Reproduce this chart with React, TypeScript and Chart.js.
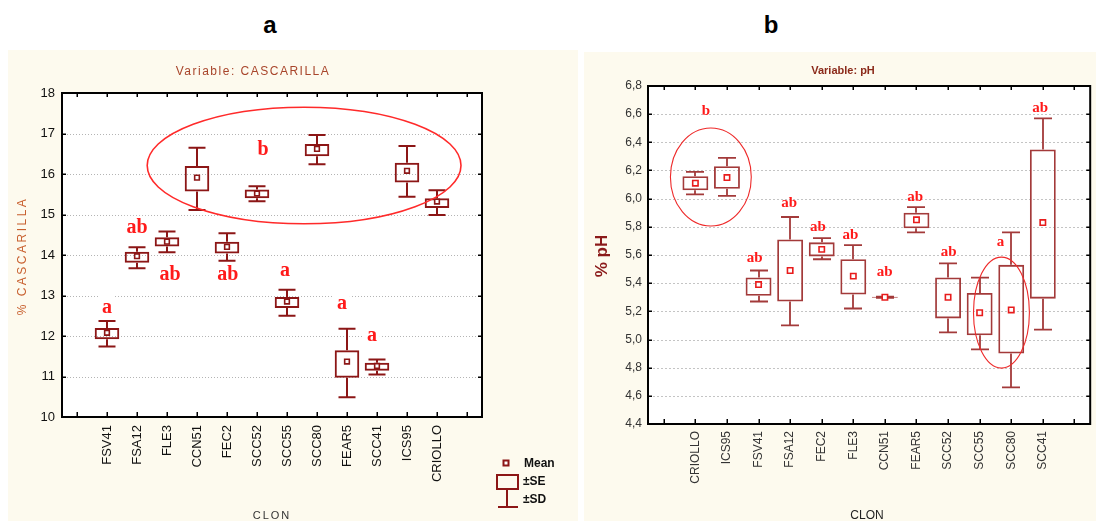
import React, { useEffect, useRef } from "react";
import { Chart, registerables } from "chart.js";
Chart.register(...registerables);

// ---------------- Panel a : CASCARILLA ----------------
const clonesA = ["", "FSV41", "FSA12", "FLE3", "CCN51", "FEC2", "SCC52", "SCC55", "SCC80", "FEAR5", "SCC41", "ICS95", "CRIOLLO", ""];
const meanA = [null, 12.08, 13.97, 14.33, 15.91, 14.2, 15.52, 12.85, 16.62, 11.37, 11.26, 16.08, 15.32, null];
const seHiA = [null, 12.2, 14.08, 14.44, 16.2, 14.33, 15.62, 12.96, 16.74, 11.65, 11.34, 16.28, 15.4, null];
const seLoA = [null, 11.92, 13.81, 14.21, 15.57, 14.04, 15.4, 12.69, 16.44, 10.97, 11.14, 15.79, 15.16, null];
const sdHiA = [null, 12.37, 14.19, 14.58, 16.65, 14.54, 15.7, 13.14, 16.96, 12.18, 11.42, 16.69, 15.6, null];
const sdLoA = [null, 11.74, 13.67, 14.07, 15.11, 13.86, 15.33, 12.5, 16.24, 10.49, 11.05, 15.44, 14.99, null];
const lettersA = ["a", "ab", "ab", "ab", "b", "a", "a", "a"];
const letterIdxA = [1, 2.0, 3.1, 5.03, 6.2, 6.93, 8.83, 9.83];
const letterValA = [12.7, 14.67, 13.51, 13.51, 16.59, 13.6, 12.8, 12.0];
const ellCxA = [7.57];
const ellCyA = [16.21];
const ellRxA = [5.23];
const ellRyA = [1.44];

// ---------------- Panel b : pH ----------------
const clonesB = ["", "CRIOLLO", "ICS95", "FSV41", "FSA12", "FEC2", "FLE3", "CCN51", "FEAR5", "SCC52", "SCC55", "SCC80", "SCC41", ""];
const meanB = [null, 6.11, 6.15, 5.39, 5.49, 5.64, 5.45, 5.3, 5.85, 5.3, 5.19, 5.21, 5.83, null];
const seHiB = [null, 6.16, 6.23, 5.44, 5.71, 5.69, 5.57, 5.304, 5.9, 5.44, 5.33, 5.53, 6.35, null];
const seLoB = [null, 6.06, 6.07, 5.31, 5.27, 5.59, 5.32, 5.296, 5.79, 5.15, 5.03, 4.9, 5.29, null];
const sdHiB = [null, 6.19, 6.29, 5.49, 5.87, 5.72, 5.67, 5.304, 5.94, 5.54, 5.44, 5.76, 6.57, null];
const sdLoB = [null, 6.03, 6.02, 5.27, 5.1, 5.57, 5.22, 5.296, 5.76, 5.05, 4.93, 4.66, 5.07, null];
const lettersB = ["b", "ab", "ab", "ab", "ab", "ab", "ab", "ab", "a", "ab"];
const letterIdxB = [1.33, 2.88, 3.97, 4.88, 5.91, 6.99, 7.96, 9.02, 10.66, 11.92];
const letterValB = [6.624, 5.577, 5.967, 5.797, 5.738, 5.475, 6.014, 5.62, 5.688, 6.646];
const ellCxB = [1.49, 10.69];
const ellCyB = [6.154, 5.191];
const ellRxB = [1.28, 0.885];
const ellRyB = [0.348, 0.394];

const SANS = '"Liberation Sans", Arial, sans-serif';
const NARROW = '"Liberation Sans Narrow", "Arial Narrow", "Liberation Sans", Arial, sans-serif';
const SERIF = '"Liberation Serif", "Times New Roman", serif';

type Spec = {
  w: number; h: number;
  labels: string[];
  mean: (number | null)[]; seHi: (number | null)[]; seLo: (number | null)[];
  sdHi: (number | null)[]; sdLo: (number | null)[];
  yMin: number; yMax: number; yStep: number; comma: boolean;
  yAxisW: number; xAxisH: number; padding: { top: number; left: number; right: number; bottom: number };
  yTickFont: string; yTickSize: number; yTickColor: string;
  xTickFont: string; xTickSize: number; xTickColor: string; xTickPad: number; yTickPad: number;
  boxColor: string; boxLW: number; meanBorder: string; meanR: number; capW: number;
  gridColor: string; gridDash: number[]; frameW: number;
  letters: string[]; letterIdx: number[]; letterVal: number[]; letterFont: string; letterBg: boolean;
  ellCx: number[]; ellCy: number[]; ellRx: number[]; ellRy: number[]; ellW: number; ellColor: string;
  title: string; titleFont: string; titleColor: string; titleX: number; titleY: number; titleSpacing: string;
  yTitle: string; yTitleFont: string; yTitleColor: string; yTitleX: number; yTitleY: number; yTitleSpacing: string;
  xTitle: string; xTitleFont: string; xTitleColor: string; xTitleX: number; xTitleY: number; xTitleSpacing: string;
  legend: boolean;
};

function makePlugin(s: Spec) {
  return {
    id: "panelDecor",
    beforeDraw(chart: any) {
      const { ctx, chartArea: a } = chart;
      ctx.save();
      ctx.fillStyle = "#ffffff";
      ctx.fillRect(a.left, a.top, a.right - a.left, a.bottom - a.top);
      ctx.restore();
    },
    beforeDatasetsDraw(chart: any) {
      const { ctx, chartArea: a } = chart;
      const x = chart.scales.x;
      const y = chart.scales.y;
      ctx.save();
      ctx.strokeStyle = s.gridColor;
      ctx.lineWidth = 1;
      ctx.setLineDash(s.gridDash);
      for (const t of y.ticks) {
        if (t.value <= y.min + 1e-6 || t.value >= y.max - 1e-6) continue;
        const py = Math.round(y.getPixelForValue(t.value)) + 0.5;
        ctx.beginPath();
        ctx.moveTo(a.left + 5, py);
        ctx.lineTo(a.right - 5, py);
        ctx.stroke();
      }
      ctx.setLineDash([]);
      if (s.letterBg) {
        ctx.font = s.letterFont;
        ctx.fillStyle = "#ffffff";
        s.letters.forEach((l, i) => {
          const px = x.getPixelForValue(s.letterIdx[i]);
          const py = y.getPixelForValue(s.letterVal[i]);
          const w = ctx.measureText(l).width + 6;
          ctx.fillRect(px - w / 2, py - 12, w, 24);
        });
      }
      ctx.strokeStyle = s.boxColor;
      ctx.lineWidth = s.boxLW;
      for (let i = 0; i < s.mean.length; i++) {
        if (s.mean[i] == null) continue;
        const px = Math.round(x.getPixelForValue(i));
        const yh = y.getPixelForValue(s.sdHi[i]);
        const yl = y.getPixelForValue(s.sdLo[i]);
        const bh = y.getPixelForValue(s.seHi[i]);
        const bl = y.getPixelForValue(s.seLo[i]);
        ctx.beginPath();
        ctx.moveTo(px, bh); ctx.lineTo(px, yh);
        ctx.moveTo(px - s.capW / 2, yh); ctx.lineTo(px + s.capW / 2, yh);
        ctx.moveTo(px, bl); ctx.lineTo(px, yl);
        ctx.moveTo(px - s.capW / 2, yl); ctx.lineTo(px + s.capW / 2, yl);
        ctx.stroke();
      }
      ctx.restore();
    },
    afterDatasetsDraw(chart: any) {
      const { ctx } = chart;
      const x = chart.scales.x;
      const y = chart.scales.y;
      ctx.save();
      ctx.strokeStyle = s.ellColor;
      ctx.lineWidth = s.ellW;
      s.ellCx.forEach((cx, i) => {
        const px = x.getPixelForValue(cx);
        const py = y.getPixelForValue(s.ellCy[i]);
        const rx = Math.abs(x.getPixelForValue(cx + s.ellRx[i]) - px);
        const ry = Math.abs(y.getPixelForValue(s.ellCy[i] + s.ellRy[i]) - py);
        ctx.beginPath();
        ctx.ellipse(px, py, rx, ry, 0, 0, Math.PI * 2);
        ctx.stroke();
      });
      ctx.fillStyle = "#ff1a1a";
      ctx.font = s.letterFont;
      ctx.textAlign = "center";
      ctx.textBaseline = "middle";
      s.letters.forEach((l, i) => {
        ctx.fillText(l, x.getPixelForValue(s.letterIdx[i]), y.getPixelForValue(s.letterVal[i]));
      });
      ctx.restore();
    },
    afterDraw(chart: any) {
      const { ctx, chartArea: a } = chart;
      const x = chart.scales.x;
      const y = chart.scales.y;
      ctx.save();
      ctx.strokeStyle = "#000";
      ctx.lineWidth = s.frameW;
      ctx.strokeRect(a.left, a.top, a.right - a.left, a.bottom - a.top);
      ctx.lineWidth = 1.5;
      ctx.beginPath();
      for (let i = 0; i < s.labels.length; i++) {
        const px = Math.round(x.getPixelForValue(i)) + 0.25;
        ctx.moveTo(px, a.bottom); ctx.lineTo(px, a.bottom - 5);
        ctx.moveTo(px, a.top); ctx.lineTo(px, a.top + 4);
      }
      for (const t of y.ticks) {
        const py = Math.round(y.getPixelForValue(t.value)) + 0.25;
        ctx.moveTo(a.left, py); ctx.lineTo(a.left + 4, py);
        ctx.moveTo(a.right, py); ctx.lineTo(a.right - 4, py);
      }
      ctx.stroke();

      const anyCtx = ctx as any;
      ctx.fillStyle = s.titleColor;
      ctx.font = s.titleFont;
      ctx.textAlign = "center";
      ctx.textBaseline = "middle";
      anyCtx.letterSpacing = s.titleSpacing;
      ctx.fillText(s.title, s.titleX, s.titleY);
      ctx.fillStyle = s.xTitleColor;
      ctx.font = s.xTitleFont;
      anyCtx.letterSpacing = s.xTitleSpacing;
      ctx.fillText(s.xTitle, s.xTitleX, s.xTitleY);
      ctx.save();
      ctx.translate(s.yTitleX, s.yTitleY);
      ctx.rotate(-Math.PI / 2);
      ctx.fillStyle = s.yTitleColor;
      ctx.font = s.yTitleFont;
      anyCtx.letterSpacing = s.yTitleSpacing;
      ctx.fillText(s.yTitle, 0, 0);
      ctx.restore();
      anyCtx.letterSpacing = "0px";

      if (s.legend) {
        const lx = a.right + 24;
        const ly = a.bottom + 46;
        ctx.strokeStyle = s.boxColor;
        ctx.lineWidth = 2;
        ctx.fillStyle = "#fff";
        ctx.fillRect(lx - 2.5, ly - 2.5, 5, 5);
        ctx.strokeRect(lx - 2.5, ly - 2.5, 5, 5);
        ctx.strokeRect(lx - 9, ly + 12, 21, 14);
        ctx.beginPath();
        ctx.moveTo(lx + 1, ly + 26); ctx.lineTo(lx + 1, ly + 44);
        ctx.moveTo(lx - 8, ly + 44); ctx.lineTo(lx + 12, ly + 44);
        ctx.stroke();
        ctx.fillStyle = "#111";
        ctx.font = "bold 12px " + NARROW;
        ctx.textAlign = "left";
        ctx.textBaseline = "middle";
        ctx.fillText("Mean", lx + 18, ly + 1);
        ctx.fillText("\u00b1SE", lx + 17, ly + 19);
        ctx.fillText("\u00b1SD", lx + 17, ly + 37);
      }
      ctx.restore();
    },
  };
}

function BoxPanel({ s }: { s: Spec }) {
  const ref = useRef<HTMLCanvasElement | null>(null);
  useEffect(() => {
    if (!ref.current) return;
    const fmt = (v: number) => (s.comma ? v.toFixed(1).replace(".", ",") : String(Math.round(v)));
    const chart = new Chart(ref.current, {
      type: "bar",
      data: {
        labels: s.labels,
        datasets: [
          {
            type: "line",
            data: s.mean as any,
            showLine: false,
            pointStyle: "rect",
            pointRadius: s.meanR,
            pointHoverRadius: s.meanR,
            pointBorderWidth: 1.6,
            pointBorderColor: s.meanBorder,
            pointBackgroundColor: "#ffffff",
            order: 0,
          } as any,
          {
            type: "bar",
            data: s.seLo.map((lo, i) => (lo == null ? null : [lo, s.seHi[i]])) as any,
            backgroundColor: "rgba(0,0,0,0)",
            borderColor: s.boxColor,
            borderWidth: s.boxLW,
            borderSkipped: false,
            barPercentage: 0.82,
            categoryPercentage: 1,
            order: 1,
          } as any,
        ],
      },
      options: {
        responsive: false,
        animation: false,
        events: [],
        layout: { padding: s.padding },
        plugins: { legend: { display: false }, tooltip: { enabled: false }, title: { display: false } },
        scales: {
          x: {
            offset: true,
            grid: { display: false, drawTicks: false },
            border: { display: false },
            ticks: {
              autoSkip: false,
              minRotation: 90,
              maxRotation: 90,
              padding: s.xTickPad,
              color: s.xTickColor,
              font: { family: s.xTickFont, size: s.xTickSize },
            },
            afterFit: (sc: any) => { sc.height = s.xAxisH; },
          },
          y: {
            min: s.yMin,
            max: s.yMax,
            grid: { display: false, drawTicks: false },
            border: { display: false },
            ticks: {
              stepSize: s.yStep,
              padding: s.yTickPad,
              color: s.yTickColor,
              font: { family: s.yTickFont, size: s.yTickSize },
              callback: (v: any) => fmt(Number(v)),
            },
            afterFit: (sc: any) => { sc.width = s.yAxisW; },
          },
        },
      } as any,
      plugins: [makePlugin(s)],
    });
    return () => chart.destroy();
  }, [s]);
  return <canvas ref={ref} width={s.w} height={s.h} style={{ display: "block", width: s.w, height: s.h }} />;
}

const specA: Spec = {
  w: 570, h: 471,
  labels: clonesA, mean: meanA, seHi: seHiA, seLo: seLoA, sdHi: sdHiA, sdLo: sdLoA,
  yMin: 10, yMax: 18, yStep: 1, comma: false,
  yAxisW: 54, xAxisH: 74, padding: { top: 43, left: 0, right: 96, bottom: 30 },
  yTickFont: NARROW, yTickSize: 13, yTickColor: "#111",
  xTickFont: SANS, xTickSize: 13, xTickColor: "#111", xTickPad: 8, yTickPad: 7,
  boxColor: "#8c1616", boxLW: 2, meanBorder: "#8c1616", meanR: 3.3, capW: 17,
  gridColor: "#b4b4b4", gridDash: [1, 2], frameW: 2,
  letters: lettersA, letterIdx: letterIdxA, letterVal: letterValA, letterFont: "bold 20px " + SERIF, letterBg: true,
  ellCx: ellCxA, ellCy: ellCyA, ellRx: ellRxA, ellRy: ellRyA, ellW: 1.6, ellColor: "#ff2a2a",
  title: "Variable: CASCARILLA", titleFont: "12px " + SANS, titleColor: "#a8452b", titleX: 245, titleY: 22, titleSpacing: "1.5px",
  yTitle: "% CASCARILLA", yTitleFont: "12px " + SANS, yTitleColor: "#c8602f", yTitleX: 15, yTitleY: 206, yTitleSpacing: "2.5px",
  xTitle: "CLON", xTitleFont: "11px " + SANS, xTitleColor: "#333", xTitleX: 264, xTitleY: 466, xTitleSpacing: "2px",
  legend: true,
};

const specB: Spec = {
  w: 512, h: 469,
  labels: clonesB, mean: meanB, seHi: seHiB, seLo: seLoB, sdHi: sdHiB, sdLo: sdLoB,
  yMin: 4.4, yMax: 6.8, yStep: 0.2, comma: true,
  yAxisW: 64, xAxisH: 70, padding: { top: 34, left: 0, right: 5, bottom: 27 },
  yTickFont: SANS, yTickSize: 12, yTickColor: "#333",
  xTickFont: SANS, xTickSize: 12, xTickColor: "#333", xTickPad: 7, yTickPad: 6,
  boxColor: "#a33a3a", boxLW: 1.8, meanBorder: "#e81c1c", meanR: 3.8, capW: 18,
  gridColor: "#c4c4c4", gridDash: [2, 2], frameW: 2,
  letters: lettersB, letterIdx: letterIdxB, letterVal: letterValB, letterFont: "bold 15px " + SERIF, letterBg: false,
  ellCx: ellCxB, ellCy: ellCyB, ellRx: ellRxB, ellRy: ellRyB, ellW: 1.1, ellColor: "#ee2a2a",
  title: "Variable: pH", titleFont: "bold 11px " + SANS, titleColor: "#8b2a1a", titleX: 259, titleY: 19, titleSpacing: "0px",
  yTitle: "% pH", yTitleFont: "bold 17px " + SANS, yTitleColor: "#8b1a1a", yTitleX: 18, yTitleY: 204, yTitleSpacing: "0px",
  xTitle: "CLON", xTitleFont: "12px " + SANS, xTitleColor: "#222", xTitleX: 283, xTitleY: 464, xTitleSpacing: "0px",
  legend: false,
};

export default function App() {
  const head: React.CSSProperties = {
    position: "absolute",
    top: 25,
    transform: "translate(-50%, -50%)",
    fontFamily: SANS,
    fontWeight: "bold",
    fontSize: 24,
    lineHeight: 1,
    color: "#000",
  };
  return (
    <div style={{ position: "fixed", left: 0, top: 0, width: 1096, height: 521, overflow: "hidden", background: "#ffffff" }}>
      <div style={{ ...head, left: 270 }}>a</div>
      <div style={{ ...head, left: 771 }}>b</div>
      <div style={{ position: "absolute", left: 8, top: 50, width: 570, height: 471, background: "#fdfaee" }}>
        <BoxPanel s={specA} />
      </div>
      <div style={{ position: "absolute", left: 584, top: 52, width: 512, height: 469, background: "#fdfaee" }}>
        <BoxPanel s={specB} />
      </div>
    </div>
  );
}
